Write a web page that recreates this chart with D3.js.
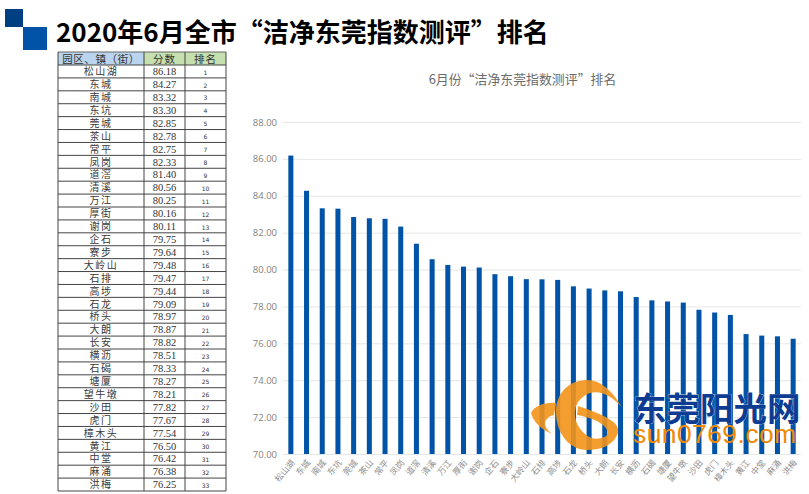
<!DOCTYPE html>
<html><head><meta charset="utf-8">
<script src="https://cdnjs.cloudflare.com/ajax/libs/d3/7.8.5/d3.min.js"></script>
<style>html,body{margin:0;padding:0;background:#fff}svg{display:block}</style></head>
<body><svg id="c" width="809" height="494"></svg>
<script>
const names=["松山湖","东城","南城","东坑","莞城","茶山","常平","凤岗","道滘","清溪","万江","厚街","谢岗","企石","寮步","大岭山","石排","高埗","石龙","桥头","大朗","长安","横沥","石碣","塘厦","望牛墩","沙田","虎门","樟木头","黄江","中堂","麻涌","洪梅"];
const scores=[86.18,84.27,83.32,83.30,82.85,82.78,82.75,82.33,81.40,80.56,80.25,80.16,80.11,79.75,79.64,79.48,79.47,79.44,79.09,78.97,78.87,78.82,78.51,78.33,78.27,78.21,77.82,77.67,77.54,76.50,76.42,76.38,76.25];
const yTicks=[70,72,74,76,78,80,82,84,86,88];
const headers=["园区、镇（街）","分数","排名"];
const pageTitle="2020年6月全市“洁净东莞指数测评”排名";
const chartTitle="6月份“洁净东莞指数测评”排名";
const logoCn="东莞阳光网", logoEn="sun0769.com";

const CJK='"Noto Sans CJK SC","Noto Sans",sans-serif';
const svg=d3.select("#c");

// header decoration
svg.append("rect").attr("x",5).attr("y",9).attr("width",18).attr("height",18).attr("fill","#003f82");
svg.append("rect").attr("x",23).attr("y",27).attr("width",24).attr("height",23).attr("fill","#0053a6");
svg.append("text").attr("x",56).attr("y",42).attr("font-family",CJK).attr("font-weight",700)
  .attr("font-size",26).attr("fill","#000").text(pageTitle);

// table
const colX=[58,144,185,226], tTop=52, hH=13;
const t=svg.append("g");
const rowY=d3.scaleLinear().domain([0,33]).range([tTop+hH,491]);
[["#b9d4ec",0],["#c5dfae",1],["#c5dfae",2]].forEach(([f,i])=>
  t.append("rect").attr("x",colX[i]).attr("y",tTop).attr("width",colX[i+1]-colX[i]).attr("height",hH).attr("fill",f));
headers.forEach((h,i)=>t.append("text").attr("x",(colX[i]+colX[i+1])/2).attr("y",tTop+10.5)
  .attr("text-anchor","middle").attr("font-family",CJK).attr("font-size",10.5).attr("letter-spacing",i==0?.6:1).attr("fill","#333").text(h));
d3.range(34).forEach(i=>t.append("line").attr("x1",colX[0]).attr("x2",colX[3]).attr("y1",rowY(i)).attr("y2",rowY(i))
  .attr("stroke","#444").attr("stroke-width",1));
t.append("line").attr("x1",colX[0]).attr("x2",colX[3]).attr("y1",tTop).attr("y2",tTop).attr("stroke","#666");
colX.forEach(x=>t.append("line").attr("x1",x).attr("x2",x).attr("y1",tTop).attr("y2",491).attr("stroke","#444"));
names.forEach((n,i)=>{
  const y=rowY(i)+10.2;
  t.append("text").attr("x",(colX[0]+colX[1])/2).attr("y",y).attr("text-anchor","middle").attr("font-family",CJK)
    .attr("font-size",10).attr("letter-spacing",n.length>2?1.5:1.5).attr("fill","#3a3a3a").text(n);
  t.append("text").attr("x",(colX[1]+colX[2])/2).attr("y",y).attr("text-anchor","middle")
    .attr("font-family",'"Liberation Serif",serif').attr("font-size",10.5).attr("fill","#333").text(scores[i].toFixed(2));
  t.append("text").attr("x",(colX[2]+colX[3])/2).attr("y",y-.6).attr("text-anchor","middle")
    .attr("font-family",'"DejaVu Sans",sans-serif').attr("font-size",6).attr("fill","#333").text(i+1);
});

// chart
const x=d3.scaleBand().domain(names).range([283,801]).paddingInner(0.68).paddingOuter(0.34);
const y=d3.scaleLinear().domain([70,88]).range([454,122]);
svg.append("text").attr("x",522.5).attr("y",84).attr("text-anchor","middle").attr("font-family",CJK)
  .attr("font-size",12.9).attr("fill","#6b6b6b").text(chartTitle);
const ya=svg.append("g").attr("transform","translate(283,0)")
  .call(d3.axisLeft(y).tickValues(yTicks).tickFormat(d3.format(".2f")).tickSize(-518).tickPadding(6));
ya.select(".domain").remove();
ya.selectAll("line").attr("stroke","#e6e6e6");
ya.selectAll("text").attr("font-family",'"Open Sans",sans-serif').attr("font-size",9.5).attr("fill","#7f7f7f");
svg.append("g").selectAll("rect").data(scores).join("rect")
  .attr("x",(d,i)=>x(names[i])).attr("width",x.bandwidth())
  .attr("y",d=>y(d)).attr("height",d=>y(70)-y(d)).attr("fill","#0053a6");
const xa=svg.append("g").attr("transform","translate(0,454)").call(d3.axisBottom(x).tickSize(0));
xa.select(".domain").remove();
xa.selectAll("text").attr("font-family",CJK).attr("font-size",8.5).attr("fill","#8f8f8f")
  .attr("text-anchor","end").attr("y",0).attr("dy","0.35em").attr("transform","translate(2,7) rotate(-50)");

// watermark logo
const logo=svg.append("g");
logo.append("path").attr("fill","#f39419").attr("fill-opacity",.9)
 .attr("d","M621.7,407 C612,390 600,380 587,380 C568,380 556,394 556,412 C556,434 570,450 587,450 C600,450 611,446 616,437 C620,431 618,425 612,421 C602,414 590,410 578,406 L577,415 C588,417 600,421 605,427 C609,432 608,436 604,437 C598,440 590,439 585,434 C577,427 574,418 575,411 C576,403 581,396 590,393 C600,390 612,396 621.7,407 Z");
logo.append("path").attr("fill","#f39419").attr("fill-opacity",.9)
 .attr("d","M531,413 C534,406 545,402 556,403 L554,415 C548,416 545,420 545,424 C546,429 549,432 553,434 C544,431 534,424 531,413 Z");
logo.append("text").attr("x",633).attr("y",421).attr("font-family",CJK).attr("font-weight",700)
  .attr("font-size",33.5).attr("fill","#0d3c92").attr("stroke","#fff").attr("stroke-width",.5).attr("paint-order","stroke").text(logoCn);
logo.append("text").attr("x",633).attr("y",443).attr("font-family",'"Liberation Sans",sans-serif')
  .attr("font-size",26.5).attr("letter-spacing",.4).attr("fill","#f08a06").text(logoEn);
</script></body></html>
